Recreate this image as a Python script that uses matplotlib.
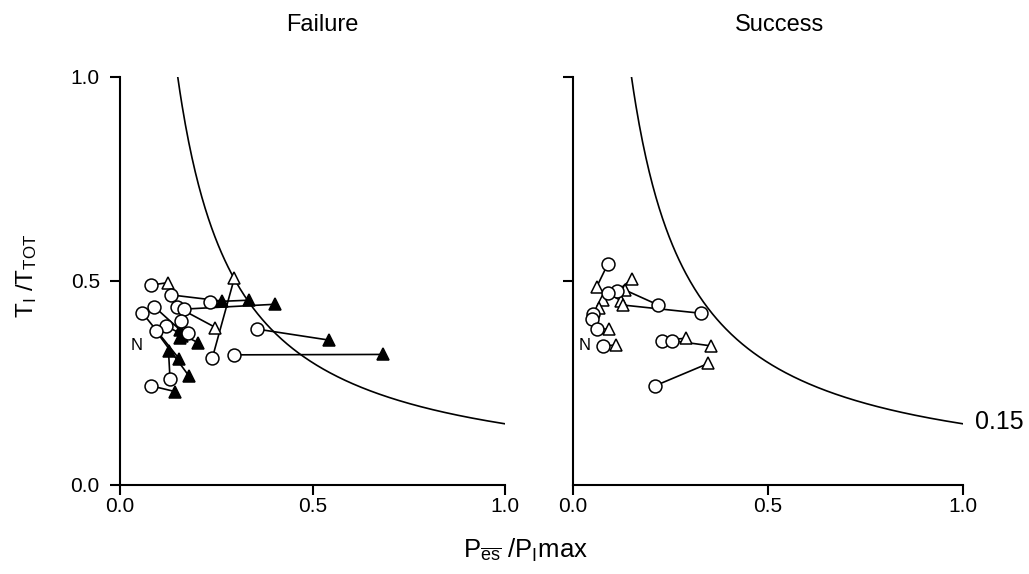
import numpy as np
import matplotlib
matplotlib.use("Agg")
import matplotlib.pyplot as plt

plt.rcParams['font.family'] = ['Liberation Sans', 'DejaVu Sans']
plt.rcParams['mathtext.fontset'] = 'custom'
plt.rcParams['mathtext.rm'] = 'Liberation Sans'
plt.rcParams['mathtext.it'] = 'Liberation Sans'

# ---- Failure panel: each subject = circle joined to a triangle ----
fail_circle_x = [0.081, 0.132, 0.234, 0.147, 0.165, 0.089, 0.158, 0.176, 0.119, 0.058, 0.093, 0.357, 0.240, 0.297, 0.130, 0.081]
fail_circle_y = [0.490, 0.466, 0.449, 0.437, 0.431, 0.437, 0.402, 0.373, 0.390, 0.422, 0.378, 0.382, 0.312, 0.319, 0.259, 0.243]
fail_tri_x    = [0.124, 0.264, 0.336, 0.248, 0.403, 0.156, 0.156, 0.160, 0.202, 0.153, 0.180, 0.544, 0.297, 0.684, 0.126, 0.143]
fail_tri_y    = [0.496, 0.451, 0.453, 0.386, 0.443, 0.380, 0.361, 0.365, 0.349, 0.310, 0.266, 0.355, 0.507, 0.320, 0.328, 0.229]
fail_tri_filled = [False, True, True, False, True, True, True, True, True, True, True, True, False, True, True, True]

# ---- Success panel ----
succ_circle_x = [0.089, 0.114, 0.089, 0.219, 0.327, 0.050, 0.048, 0.061, 0.078, 0.227, 0.253, 0.210]
succ_circle_y = [0.541, 0.476, 0.471, 0.441, 0.421, 0.420, 0.408, 0.382, 0.341, 0.354, 0.354, 0.243]
succ_tri_x    = [0.061, 0.150, 0.124, 0.133, 0.129, 0.078, 0.067, 0.093, 0.110, 0.291, 0.354, 0.347]
succ_tri_y    = [0.486, 0.504, 0.451, 0.478, 0.441, 0.453, 0.433, 0.382, 0.343, 0.360, 0.341, 0.298]
succ_tri_filled = [False] * 12

iso_value = 0.15
curve_x = np.linspace(iso_value, 1.0, 300)
curve_y = iso_value / curve_x

tick_vals = [0.0, 0.5, 1.0]
tick_labels = ['0.0', '0.5', '1.0']

fig = plt.figure(figsize=(10.29, 5.74), dpi=100)
W, H = 1029, 574
ax1 = fig.add_axes([120 / W, (H - 485) / H, 385 / W, 408 / H])
ax2 = fig.add_axes([573 / W, (H - 485) / H, 390 / W, 408 / H])


def draw(ax, cx, cy, tx, ty, tf):
    ax.plot(curve_x, curve_y, color='black', lw=1.2, zorder=1)
    for i in range(len(cx)):
        ax.plot([cx[i], tx[i]], [cy[i], ty[i]], color='black', lw=1.2, zorder=2)
    for i in range(len(tx)):
        ax.plot(tx[i], ty[i], marker='^', ms=8, mec='black', mew=1.1,
                mfc='black' if tf[i] else 'white', ls='none', zorder=3)
    ax.plot(cx, cy, marker='o', ms=9.3, mec='black', mew=1.1, mfc='white',
            ls='none', zorder=4)
    ax.set_xlim(0, 1)
    ax.set_ylim(0, 1)
    for s in ['top', 'right']:
        ax.spines[s].set_visible(False)
    for s in ['left', 'bottom']:
        ax.spines[s].set_linewidth(1.5)
    ax.tick_params(direction='out', length=7.5, width=1.5, labelsize=15)
    ax.tick_params(axis='x', pad=1.5)
    ax.tick_params(axis='y', pad=7)
    ax.set_xticks(tick_vals)
    ax.set_xticklabels(tick_labels)


draw(ax1, fail_circle_x, fail_circle_y, fail_tri_x, fail_tri_y, fail_tri_filled)
draw(ax2, succ_circle_x, succ_circle_y, succ_tri_x, succ_tri_y, succ_tri_filled)

ax1.set_yticks(tick_vals)
ax1.set_yticklabels(tick_labels)
ax2.set_yticks([0.5, 1.0])
ax2.set_yticklabels([])

ax1.text(0.044, 0.343, 'N', fontsize=12, ha='center', va='center')
ax2.text(0.031, 0.341, 'N', fontsize=12, ha='center', va='center')
ax2.text(1.031, 0.154, '0.15', fontsize=18, ha='left', va='center', clip_on=False)

fig.text(322 / W, 1 - 25 / H, 'Failure', fontsize=17, ha='center', va='center')
fig.text(780 / W, 1 - 25 / H, 'Success', fontsize=17, ha='center', va='center')

fig.text(27 / W, 1 - 276 / H, r'$\mathregular{T_I\ /T_{TOT}}$', fontsize=17.5,
         rotation=90, ha='center', va='center')
fig.text(525 / W, 1 - 550 / H, r'$\mathregular{P_{\overline{es}}\ /P_I}$max', fontsize=18.5,
         ha='center', va='center')

fig.savefig('out.png', dpi=100)
